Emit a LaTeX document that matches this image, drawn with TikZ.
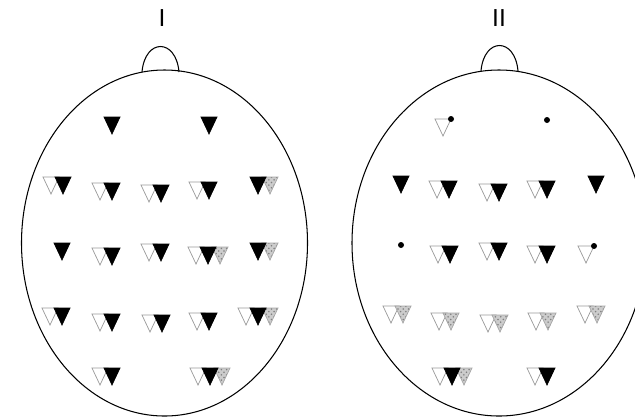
\documentclass[tikz,border=0pt]{standalone}
\usepackage{fontspec}
\setmainfont{Liberation Sans}
\usetikzlibrary{patterns}

% one down-pointing electrode triangle, top left corner at (#2,#3)
\newcommand{\tri}[3]{\draw[#1] (#2,#3) -- ++(16,0) -- ++(-8,17) -- cycle;}

\tikzset{
    head/.style={line width=0.6pt},
    opentri/.style={draw=gray!80, line width=0.4pt, fill=white},
    blacktri/.style={draw=black, line width=0.4pt, fill=black},
    hatchtri/.style={draw=gray!70, line width=0.4pt, preaction={fill=gray!40},
        pattern=crosshatch dots, pattern color=gray},
    elec/.style={fill=black}
}

\begin{document}
\begin{tikzpicture}[x=0.02cm, y=-0.02cm]
    \useasboundingbox (0,0) rectangle (635,417);
    \clip (0,0) rectangle (635,417);

    % Head I
    \draw[head] (164.5,243) ellipse [x radius=143, y radius=173];
    \draw[head] (142,72) .. controls (145,38) and (176,38) .. (179,72);
    \node[font=\fontsize{14}{14}\selectfont] (labI) at (162,18) {I};

    % Head II
    \draw[head] (499,243) ellipse [x radius=147, y radius=173];
    \draw[head] (481,71) .. controls (484,37) and (515,37) .. (518,71);
    \node[font=\fontsize{14}{14}\selectfont] (labII) at (499,18) {II};

    % Head I, row 1
    \tri{blacktri}{104}{117}
    \tri{blacktri}{201}{117}
    % Head I, row 2
    \tri{opentri}{43}{177}  \tri{blacktri}{55}{177}
    \tri{opentri}{92}{183}  \tri{blacktri}{104}{183}
    \tri{opentri}{141}{185} \tri{blacktri}{153}{185}
    \tri{opentri}{189}{182} \tri{blacktri}{201}{182}
    \tri{hatchtri}{262}{177} \tri{blacktri}{250}{177}
    % Head I, row 3
    \tri{blacktri}{54}{243}
    \tri{opentri}{92}{248}  \tri{blacktri}{104}{248}
    \tri{opentri}{141}{244} \tri{blacktri}{153}{244}
    \tri{opentri}{188}{247} \tri{hatchtri}{212}{247} \tri{blacktri}{200}{247}
    \tri{hatchtri}{262}{243} \tri{blacktri}{250}{243}
    % Head I, row 4
    \tri{opentri}{42}{308}  \tri{blacktri}{54}{308}
    \tri{opentri}{92}{314}  \tri{blacktri}{104}{314}
    \tri{opentri}{142}{315} \tri{blacktri}{154}{315}
    \tri{opentri}{189}{313} \tri{blacktri}{201}{313}
    \tri{opentri}{238}{308} \tri{hatchtri}{262}{308} \tri{blacktri}{250}{308}
    % Head I, row 5
    \tri{opentri}{92}{368}  \tri{blacktri}{104}{368}
    \tri{opentri}{190}{368} \tri{hatchtri}{214}{368} \tri{blacktri}{202}{368}

    % Head II, row 1
    \tri{opentri}{435}{119} \fill[elec] (451,119) circle (3);
    \fill[elec] (547,120) circle (3);
    % Head II, row 2
    \tri{blacktri}{393}{176}
    \tri{opentri}{429}{181} \tri{blacktri}{441}{181}
    \tri{opentri}{479}{184} \tri{blacktri}{491}{184}
    \tri{opentri}{527}{181} \tri{blacktri}{539}{181}
    \tri{blacktri}{588}{176}
    % Head II, row 3
    \fill[elec] (401,245) circle (3);
    \tri{opentri}{430}{246} \tri{blacktri}{442}{246}
    \tri{opentri}{479}{243} \tri{blacktri}{491}{243}
    \tri{opentri}{527}{246} \tri{blacktri}{539}{246}
    \tri{opentri}{578}{246} \fill[elec] (594,246) circle (3);
    % Head II, row 4
    \tri{opentri}{383}{306} \tri{hatchtri}{395}{306}
    \tri{opentri}{431}{313} \tri{hatchtri}{443}{313}
    \tri{opentri}{480}{315} \tri{hatchtri}{492}{315}
    \tri{opentri}{528}{313} \tri{hatchtri}{540}{313}
    \tri{opentri}{577}{306} \tri{hatchtri}{589}{306}
    % Head II, row 5
    \tri{opentri}{432}{368} \tri{hatchtri}{456}{368} \tri{blacktri}{444}{368}
    \tri{opentri}{527}{368} \tri{blacktri}{539}{368}
\end{tikzpicture}
\end{document}
